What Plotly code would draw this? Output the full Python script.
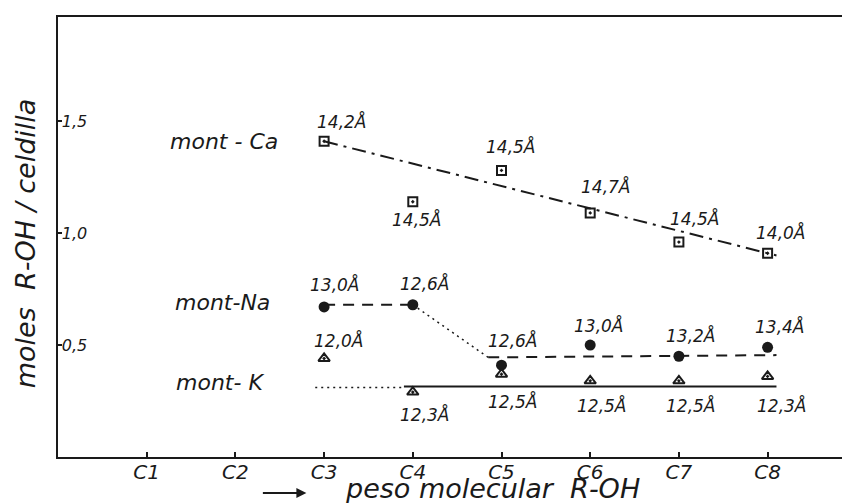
import plotly.graph_objects as go

# ---------------- data ----------------
tick_vals = [1, 2, 3, 4, 5, 6, 7, 8]
tick_labels = ["C1", "C2", "C3", "C4", "C5", "C6", "C7", "C8"]
y_tick_vals = [0.5, 1.0, 1.5]
y_tick_labels = ["0,5", "1,0", "1,5"]

carbons = [3, 4, 5, 6, 7, 8]
ca_vals = [1.41, 1.14, 1.28, 1.09, 0.96, 0.91]
na_vals = [0.67, 0.68, 0.41, 0.50, 0.45, 0.49]
k_vals = [0.44, 0.29, 0.37, 0.34, 0.34, 0.36]

ca_spacing = ["14,2Å", "14,5Å", "14,5Å", "14,7Å", "14,5Å", "14,0Å"]
na_spacing = ["13,0Å", "12,6Å", "12,6Å", "13,0Å", "13,2Å", "13,4Å"]
k_spacing = ["12,0Å", "12,3Å", "12,5Å", "12,5Å", "12,5Å", "12,3Å"]

# trend lines (x in carbon number, y in moles)
ca_fit_x = [3.0, 8.1]
ca_fit_y = [1.41, 0.90]
na_fit1_x = [3.0, 4.0]
na_fit1_y = [0.68, 0.68]
na_fit2_x = [4.0, 4.85]
na_fit2_y = [0.68, 0.445]
na_fit3_x = [4.85, 8.1]
na_fit3_y = [0.445, 0.455]
k_fit1_x = [2.9, 3.9]
k_fit1_y = [0.31, 0.31]
k_fit2_x = [3.9, 8.1]
k_fit2_y = [0.315, 0.315]

# label offsets in pixels (style only)
ca_off = [(17, 20), (4, -18), (9, 24), (15, 26), (16, 24), (13, 21)]
na_off = [(10, 22), (12, 21), (11, 25), (8, 20), (12, 21), (12, 21)]
k_off = [(14, 18), (12, -22), (11, -27), (11, -25), (12, -25), (14, -29)]

FONT = "DejaVu Sans"
BLACK = "#1a1a1a"

fig = go.Figure()

def line(x, y, dash, width=2):
    fig.add_trace(go.Scatter(x=x, y=y, mode="lines", showlegend=False,
                             hoverinfo="skip",
                             line=dict(color=BLACK, width=width, dash=dash)))

line(ca_fit_x, ca_fit_y, "14px,6px,3px,6px", 2)
line(na_fit1_x, na_fit1_y, "11px,8px", 2)
line(na_fit2_x, na_fit2_y, "2px,4px", 1.5)
line(na_fit3_x, na_fit3_y, "11px,8px", 2)
line(k_fit1_x, k_fit1_y, "2px,4px", 1.5)
line(k_fit2_x, k_fit2_y, "solid", 2)

fig.add_trace(go.Scatter(x=carbons, y=ca_vals, mode="markers", name="mont-Ca",
                         showlegend=False,
                         marker=dict(symbol="square-open-dot", size=9, color=BLACK,
                                     line=dict(width=2, color=BLACK))))
fig.add_trace(go.Scatter(x=carbons, y=na_vals, mode="markers", name="mont-Na",
                         showlegend=False,
                         marker=dict(symbol="circle", size=11, color=BLACK)))
fig.add_trace(go.Scatter(x=carbons, y=k_vals, mode="markers", name="mont-K",
                         showlegend=False,
                         marker=dict(symbol="triangle-up-open-dot", size=10, color=BLACK,
                                     line=dict(width=2, color=BLACK))))

annots = []
for vals, texts, offs in [(ca_vals, ca_spacing, ca_off),
                          (na_vals, na_spacing, na_off),
                          (k_vals, k_spacing, k_off)]:
    for xv, yv, t, (dx, dy) in zip(carbons, vals, texts, offs):
        annots.append(dict(x=xv, y=yv, text=t, showarrow=False,
                           xanchor="center", yanchor="middle",
                           xshift=dx, yshift=dy,
                           font=dict(family=FONT, size=17, color=BLACK, style="italic")))

# series names
for name, xp, yp in [("mont - Ca", 0.212, 0.716), ("mont-Na", 0.210, 0.352),
                     ("mont- K", 0.207, 0.170)]:
    annots.append(dict(x=xp, y=yp, xref="paper", yref="paper", text=name,
                       showarrow=False, xanchor="center", yanchor="middle",
                       font=dict(family=FONT, size=22, color=BLACK, style="italic")))

# axis titles
annots.append(dict(x=-0.0419, y=0.486, xref="paper", yref="paper",
                   text="moles  R-OH / celdilla", textangle=-90, showarrow=False,
                   xanchor="center", yanchor="middle",
                   font=dict(family=FONT, size=27, color=BLACK, style="italic")))
annots.append(dict(x=0.554, y=-0.0705, xref="paper", yref="paper",
                   text="peso molecular  R-OH", showarrow=False,
                   xanchor="center", yanchor="middle",
                   font=dict(family=FONT, size=27, color=BLACK, style="italic")))
annots.append(dict(x=0.3164, y=-0.0818, xref="paper", yref="paper",
                   ax=-45, ay=0, text="", showarrow=True, arrowhead=2,
                   arrowsize=1, arrowwidth=2, arrowcolor=BLACK))

# page body has an 8px margin, so the figure is sized to fit the 850x503 window
fig.update_layout(
    width=842, height=495,
    margin=dict(l=50, r=5, t=9, b=46),
    paper_bgcolor="white", plot_bgcolor="white",
    annotations=annots,
    xaxis=dict(range=[0, 8.85], tickvals=tick_vals, ticktext=tick_labels,
               ticks="inside", ticklen=5, tickwidth=2, tickcolor=BLACK,
               ticklabelstandoff=-4,
               showline=True, linewidth=2, linecolor=BLACK, mirror=True,
               showgrid=False, zeroline=False,
               tickfont=dict(family=FONT, size=20, color=BLACK, style="italic")),
    yaxis=dict(range=[0, 1.965], tickvals=y_tick_vals, ticktext=y_tick_labels,
               ticks="inside", ticklen=4, tickwidth=2, tickcolor=BLACK,
               ticklabelposition="inside",
               showline=True, linewidth=2, linecolor=BLACK, mirror=True,
               showgrid=False, zeroline=False,
               tickfont=dict(family=FONT, size=16, color=BLACK, style="italic")),
)

fig.write_html("out.html")
